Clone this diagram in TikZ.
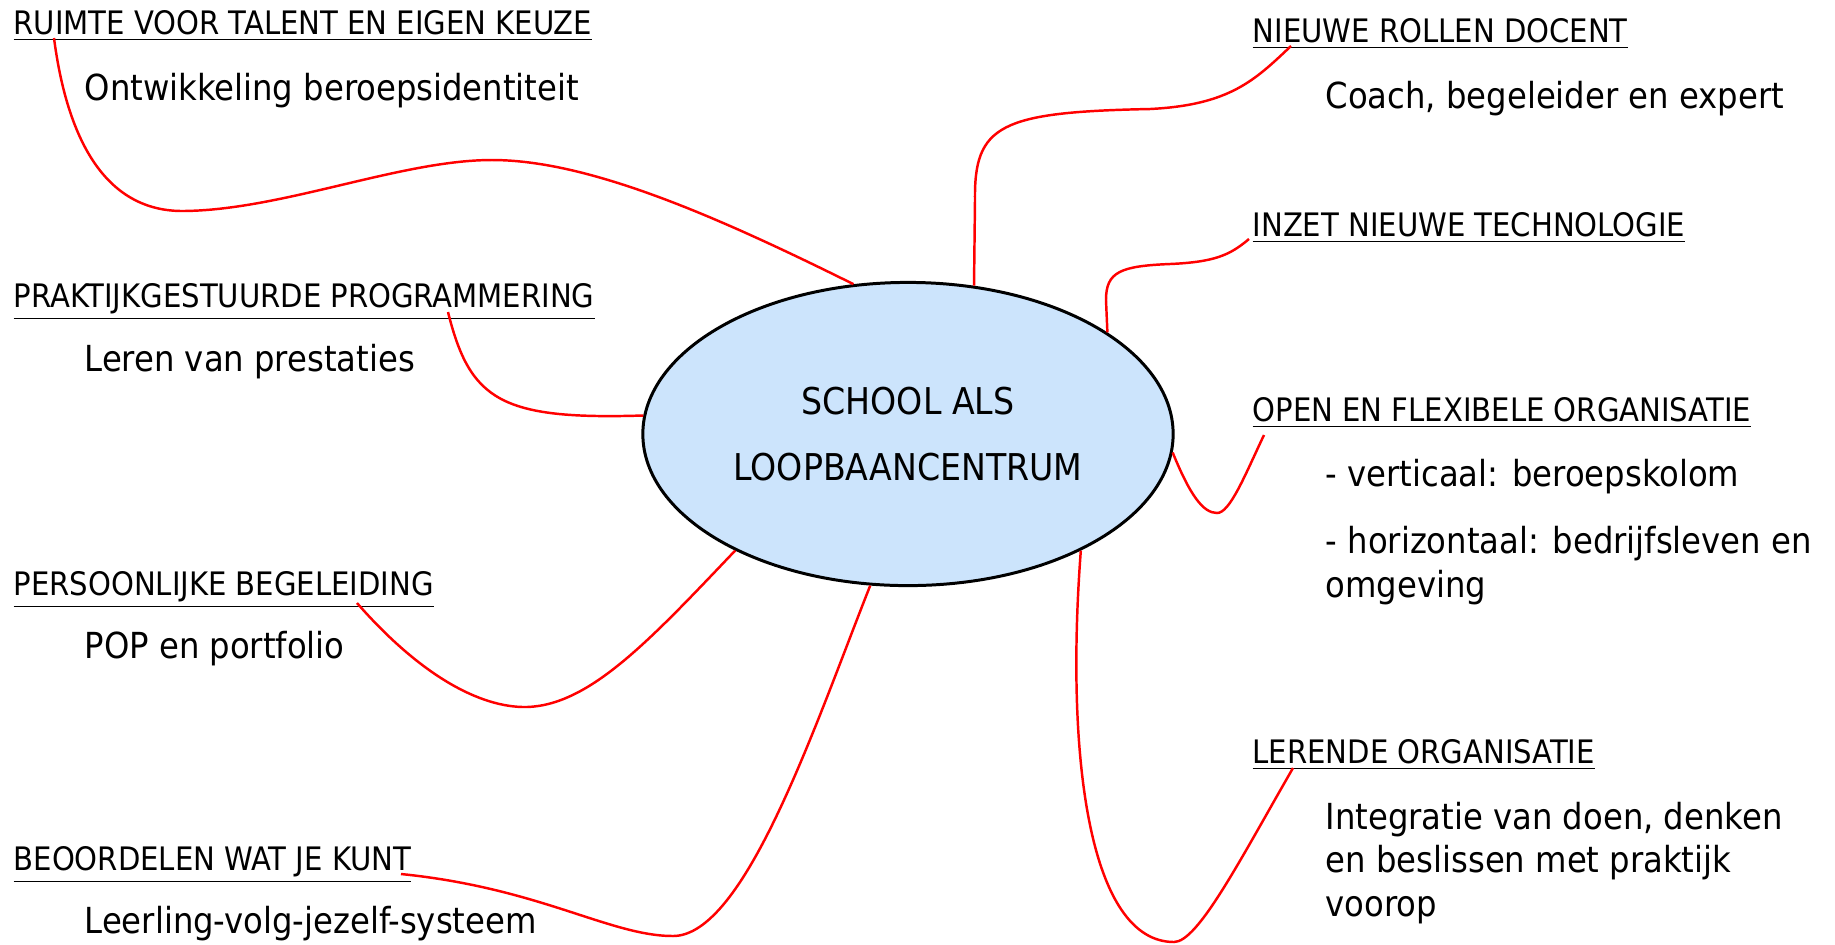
\documentclass[tikz,border=0pt]{standalone}
\usepackage{fontspec}
\setmainfont{DejaVu Sans Condensed}
\usetikzlibrary{shapes.geometric,calc}
\definecolor{hubblue}{RGB}{204,228,252}
\tikzset{hub/.style={ellipse,draw,line width=0.85pt,fill=hubblue,minimum width=5.3cm,minimum height=3.03cm,align=center,font=\fontsize{10.5}{19}\selectfont},
         topic/.style={anchor=base west,inner sep=0pt,font=\fontsize{9.2}{11}\selectfont},
         detail/.style={anchor=base west,inner sep=0pt,align=left,font=\fontsize{10.2}{12.3}\selectfont},
         link/.style={red,line width=0.7pt}
     }

\begin{document}
\begin{tikzpicture}[x=0.01cm,y=-0.01cm]
\useasboundingbox (0,0) rectangle (1835,944);
\node[hub] (hub) at (908,434) {SCHOOL ALS\\LOOPBAANCENTRUM};
% left side
\node[topic] (ruimte) at (13,34) {\underline{RUIMTE VOOR TALENT EN EIGEN KEUZE}};
\node[detail] (ruimtetxt) at (84,100) {Ontwikkeling beroepsidentiteit};
\node[topic] (praktijk) at (13,307) {\underline{PRAKTIJKGESTUURDE PROGRAMMERING}};
\node[detail] (praktijktxt) at (84,371) {Leren van prestaties};
\node[topic] (persoonlijk) at (13,595) {\underline{PERSOONLIJKE BEGELEIDING}};
\node[detail] (persoonlijktxt) at (84,658) {POP en portfolio};
\node[topic] (beoordelen) at (13,870) {\underline{BEOORDELEN WAT JE KUNT}};
\node[detail] (beoordelentxt) at (84,933) {Leerling-volg-jezelf-systeem};
% right side (base of a multi-line node is its last line)
\node[topic] (rollen) at (1252,42) {\underline{NIEUWE ROLLEN DOCENT}};
\node[detail] (rollentxt) at (1325,108) {Coach, begeleider en expert};
\node[topic] (inzet) at (1252,236) {\underline{INZET NIEUWE TECHNOLOGIE}};
\node[topic] (open) at (1252,421) {\underline{OPEN EN FLEXIBELE ORGANISATIE}};
\node[detail] (opentxta) at (1325,486) {- verticaal: beroepskolom};
\node[detail] (opentxtb) at (1325,597) {- horizontaal: bedrijfsleven en\\omgeving};
\node[topic] (lerende) at (1252,763) {\underline{LERENDE ORGANISATIE}};
\node[detail] (lerendetxt) at (1325,916) {Integratie van doen, denken\\en beslissen met praktijk\\voorop};

\draw[link] ($(ruimte.base west)+(41,4)$) .. controls (66,130) and (100,210) .. (181,211) .. controls (280,211) and (400,160) .. (492,160) .. controls (590,160) and (720,218) .. (hub.110);
\draw[link] ($(praktijk.base west)+(435,5)$) .. controls (470,400) and (500,420) .. (hub.176.6);
\draw[link] ($(persoonlijk.base west)+(344,8)$) .. controls (420,675) and (480,708) .. (527,707) .. controls (590,705) and (650,640) .. (hub.-146);
\draw[link] ($(beoordelen.base west)+(388,4)$) .. controls (540,888) and (610,936) .. (673,936) .. controls (745,936) and (815,725) .. (hub.-104);
\draw[link] ($(rollen.base west)+(39,4)$) .. controls (1255,80) and (1230,105) .. (1150,109) .. controls (1000,112) and (974,125) .. (975,200) -- (hub.66);
\draw[link] ($(inzet.base west)+(-3,3)$) .. controls (1230,255) and (1215,262) .. (1170,264) .. controls (1120,266) and (1106,272) .. (1106,300) -- (hub.27.7);
\draw[link] (hub.-4.7) .. controls (1190,495) and (1203,513) .. (1217,513) .. controls (1230,513) and (1245,475) .. ($(open.base west)+(12,14)$);
\draw[link] (hub.-34) .. controls (1065,760) and (1090,942) .. (1174,942) .. controls (1198,942) and (1240,860) .. ($(lerende.base west)+(41,5)$);
\end{tikzpicture}
\end{document}
